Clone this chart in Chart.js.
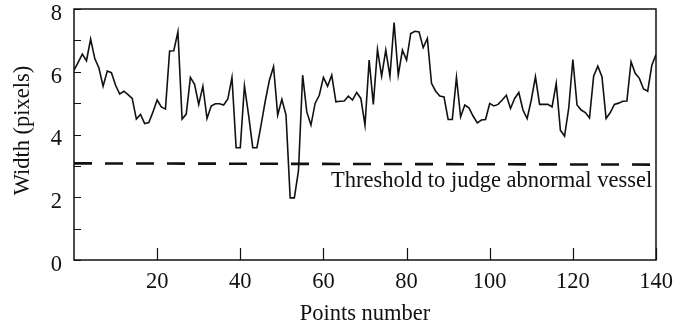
<!DOCTYPE html>
<html>
<head>
<meta charset="utf-8">
<script src="https://cdn.jsdelivr.net/npm/chart.js@4.4.1/dist/chart.umd.min.js"></script>
<style>
  html, body { margin: 0; padding: 0; background: #fff; }
  #wrap { width: 680px; height: 329px; position: relative; }
</style>
</head>
<body>
<div id="wrap"><canvas id="chart"></canvas></div>
<script>
// vessel width measured along the centre line, one value per point (0..140)
const widthValues = [
  6.05, 6.30, 6.56, 6.35, 7.04, 6.42, 6.12, 5.54, 6.02, 5.97,
  5.57, 5.29, 5.38, 5.27, 5.15, 4.49, 4.64, 4.35, 4.38, 4.72,
  5.10, 4.88, 4.81, 6.66, 6.67, 7.27, 4.49, 4.65, 5.82, 5.60,
  4.96, 5.54, 4.51, 4.91, 4.98, 4.98, 4.94, 5.13, 5.82, 3.58,
  3.58, 5.55, 4.62, 3.58, 3.58, 4.30, 5.06, 5.73, 6.16, 4.62,
  5.12, 4.62, 1.98, 1.98, 2.85, 5.89, 4.72, 4.30, 4.99, 5.25,
  5.82, 5.54, 5.89, 5.04, 5.06, 5.07, 5.22, 5.10, 5.34, 5.15,
  4.30, 6.37, 4.96, 6.71, 5.86, 6.69, 5.86, 7.57, 5.89, 6.69,
  6.37, 7.22, 7.29, 7.27, 6.77, 7.06, 5.63, 5.38, 5.23, 5.20,
  4.48, 4.48, 5.82, 4.56, 4.94, 4.85, 4.59, 4.37, 4.46, 4.48,
  4.99, 4.91, 4.96, 5.10, 5.25, 4.83, 5.15, 5.34, 4.78, 4.51,
  5.10, 5.84, 4.96, 4.96, 4.96, 4.88, 5.63, 4.14, 3.95, 4.83,
  6.39, 4.94, 4.78, 4.70, 4.53, 5.86, 6.18, 5.84, 4.51, 4.70,
  4.96, 5.00, 5.06, 5.07, 6.32, 5.95, 5.79, 5.45, 5.38, 6.21,
  6.55
];

const thresholdX = [0, 140];
const thresholdY = [3.08, 3.04];
const thresholdText = "Threshold to judge abnormal vessel";

const xTickValues = [20, 40, 60, 80, 100, 120, 140];
const yTickValues = [0, 1, 2, 3, 4, 5, 6, 7, 8];
const yLabelValues = [0, 2, 4, 6, 8];

const xTitle = "Points number";
const yTitle = "Width (pixels)";

const INK = "#111";
const FONT = '22.5px "Liberation Serif", "Times New Roman", serif';

const framePlugin = {
  id: "frame",
  afterDraw(chart) {
    const ctx = chart.ctx;
    const { left, right, top, bottom } = chart.chartArea;
    const xs = chart.scales.x;
    const ys = chart.scales.y;

    ctx.save();
    ctx.strokeStyle = INK;
    ctx.fillStyle = INK;
    ctx.lineWidth = 1.5;
    ctx.strokeRect(left, top, right - left, bottom - top);

    // inward ticks
    ctx.lineWidth = 1.2;
    ctx.beginPath();
    yTickValues.forEach((v) => {
      const py = Math.round(ys.getPixelForValue(v)) + 0.5;
      ctx.moveTo(left, py);
      ctx.lineTo(left + 7, py);
    });
    xTickValues.forEach((v) => {
      const px = Math.round(xs.getPixelForValue(v)) + 0.5;
      ctx.moveTo(px, bottom);
      ctx.lineTo(px, bottom - 12);
    });
    ctx.stroke();

    ctx.font = FONT;
    ctx.textBaseline = "middle";
    ctx.textAlign = "right";
    yLabelValues.forEach((v) => {
      ctx.fillText(String(v), 62, ys.getPixelForValue(v) + 5);
    });

    ctx.textAlign = "center";
    ctx.textBaseline = "alphabetic";
    xTickValues.forEach((v) => {
      ctx.fillText(String(v), xs.getPixelForValue(v), 288);
    });

    ctx.fillText(xTitle, (left + right) / 2, 320);

    ctx.save();
    ctx.translate(29, (top + bottom) / 2 - 4);
    ctx.rotate(-Math.PI / 2);
    ctx.fillText(yTitle, 0, 0);
    ctx.restore();

    ctx.textAlign = "left";
    ctx.fillText(thresholdText, 331, 187);
    ctx.restore();
  }
};

new Chart(document.getElementById("chart"), {
  type: "line",
  data: {
    datasets: [
      {
        data: widthValues.map((v, i) => ({ x: i, y: v })),
        borderColor: INK,
        borderWidth: 1.6,
        pointRadius: 0,
        tension: 0
      },
      {
        data: thresholdX.map((x, i) => ({ x, y: thresholdY[i] })),
        borderColor: INK,
        borderWidth: 2.6,
        borderDash: [18, 13],
        pointRadius: 0
      }
    ]
  },
  options: {
    responsive: true,
    maintainAspectRatio: false,
    animation: false,
    layout: { padding: { left: 74, right: 24, top: 9, bottom: 69 } },
    plugins: {
      legend: { display: false },
      tooltip: { enabled: false }
    },
    scales: {
      x: { type: "linear", min: 0, max: 140, display: false },
      y: { type: "linear", min: 0, max: 8, display: false }
    }
  },
  plugins: [framePlugin]
});
</script>
</body>
</html>
